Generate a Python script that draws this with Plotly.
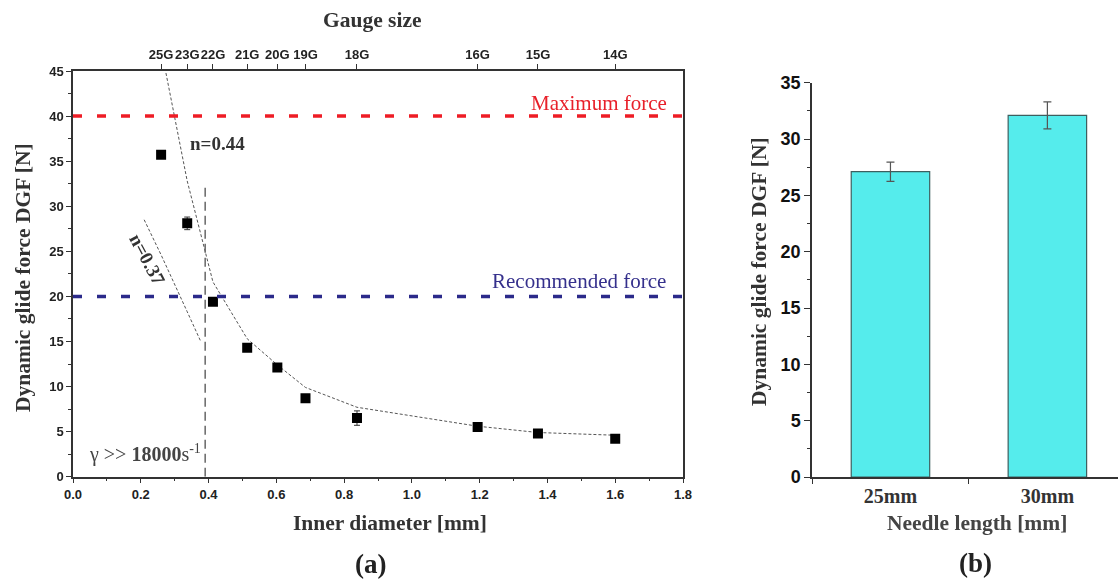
import plotly.graph_objects as go

# ---------------- data ----------------
gauges = ["25G", "23G", "22G", "21G", "20G", "19G", "18G", "16G", "15G", "14G"]
inner_d = [0.260, 0.337, 0.413, 0.514, 0.603, 0.686, 0.838, 1.194, 1.372, 1.600]
dgf = [35.7, 28.1, 19.4, 14.3, 12.1, 8.7, 6.5, 5.5, 4.8, 4.2]
dgf_err = [0, 0.7, 0, 0, 0, 0, 0.8, 0, 0, 0]

fit044_x = inner_d
fit044_y = [47.5, 32.8, 21.6, 15.3, 12.4, 9.9, 7.7, 5.6, 4.9, 4.6]
fit037_x = [0.21, 0.26, 0.337, 0.377]
fit037_y = [28.5, 24.6, 18.3, 15.0]

crit_d = 0.39
crit_top = 32.3
max_force = 40
rec_force = 20

needle = ["25mm", "30mm"]
needle_dgf = [27.1, 32.1]
needle_err = [0.85, 1.2]

SERIF = "Liberation Serif, Times New Roman, serif"
SANS = "Liberation Sans, Arial, sans-serif"
AX = "#333333"
TS = 21.5  # title size

fig = go.Figure()

# fit lines
fig.add_trace(go.Scatter(x=fit044_x, y=fit044_y, mode="lines",
                         line=dict(color="#555555", width=1, dash="3px,2px"),
                         xaxis="x", yaxis="y", showlegend=False, hoverinfo="skip"))
fig.add_trace(go.Scatter(x=fit037_x, y=fit037_y, mode="lines",
                         line=dict(color="#555555", width=1, dash="3px,2px"),
                         xaxis="x", yaxis="y", showlegend=False, hoverinfo="skip"))
# data points
fig.add_trace(go.Scatter(x=inner_d, y=dgf, mode="markers",
                         marker=dict(symbol="square", size=10, color="black"),
                         error_y=dict(type="data", array=dgf_err, color="#333333",
                                      thickness=1, width=3),
                         xaxis="x", yaxis="y", showlegend=False))
# trace on the top gauge axis (hidden)
fig.add_trace(go.Scatter(x=inner_d, y=dgf, mode="markers", opacity=0,
                         xaxis="x2", yaxis="y", showlegend=False, hoverinfo="skip"))

# bars
fig.add_trace(go.Bar(x=needle, y=needle_dgf, width=0.5,
                     marker=dict(color="#55ECEC", line=dict(color="#3d5f5f", width=1.2)),
                     error_y=dict(type="data", array=needle_err, color="#555555",
                                  thickness=1.2, width=4),
                     xaxis="x3", yaxis="y3", showlegend=False))

left_dom = [73 / 1118, 683 / 1118]
left_ydom = [1 - 476.7 / 582, 1 - 71 / 582]
right_dom = [812 / 1118, 1.0]
right_ydom = [1 - 477 / 582, 1 - 82.7 / 582]

common_line = dict(showline=True, linecolor=AX, linewidth=1.5, ticks="outside",
                   tickcolor=AX, tickwidth=1.2, showgrid=False, zeroline=False,
                   automargin=False)

fig.update_layout(
    template="none",
    width=1118, height=582,
    margin=dict(l=0, r=0, t=0, b=0, autoexpand=False),
    paper_bgcolor="white", plot_bgcolor="rgba(0,0,0,0)",
    xaxis=dict(domain=left_dom, range=[0, 1.8], dtick=0.2, tickformat=".1f",
               ticklen=5, anchor="y", tickangle=0,
               minor=dict(ticks="outside", dtick=0.1, ticklen=3, tickcolor=AX),
               tickfont=dict(family=SANS, size=13, color="#222", weight="bold"),
               **common_line),
    xaxis2=dict(domain=left_dom, range=[0, 1.8], overlaying="x", side="top",
                anchor="y", tickmode="array", tickvals=inner_d, ticktext=gauges,
                ticklen=5, tickangle=0,
                tickfont=dict(family=SANS, size=13, color="#222", weight="bold"),
                **common_line),
    yaxis=dict(domain=left_ydom, range=[0, 45], dtick=5, ticklen=5, anchor="x",
               mirror=True,
               minor=dict(ticks="outside", dtick=2.5, ticklen=3, tickcolor=AX),
               tickfont=dict(family=SANS, size=13, color="#222", weight="bold"),
               **common_line),
    xaxis3=dict(domain=right_dom, range=[-0.5, 1.45], type="category",
                tickson="boundaries", ticklen=5, anchor="y3", tickangle=0,
                tickfont=dict(family=SERIF, size=20, color="#333", weight="bold"),
                **common_line),
    yaxis3=dict(domain=right_ydom, range=[0, 35], dtick=5, ticklen=6, anchor="x3",
                minor=dict(ticks="outside", dtick=2.5, ticklen=3, tickcolor=AX),
                tickfont=dict(family=SANS, size=18, color="#111", weight="bold"),
                **common_line),
    bargap=0.5,
)

# reference lines
fig.add_shape(type="line", xref="x domain", yref="y", x0=0, x1=1, y0=max_force, y1=max_force,
              line=dict(color="#EE1C25", width=3.5, dash="9px,15px"))
fig.add_shape(type="line", xref="x domain", yref="y", x0=0, x1=1, y0=rec_force, y1=rec_force,
              line=dict(color="#2B2A8A", width=3.5, dash="9px,15px"))
fig.add_shape(type="line", xref="x", yref="y", x0=crit_d, x1=crit_d, y0=0, y1=crit_top,
              line=dict(color="#666666", width=1.5, dash="9px,5px"))

ann = []
ann.append(dict(x=1.76, y=41.4, xref="x", yref="y", text="Maximum force", showarrow=False,
                xanchor="right", yanchor="middle",
                font=dict(family=SERIF, size=21, color="#E8202A")))
ann.append(dict(x=1.755, y=21.7, xref="x", yref="y", text="Recommended force", showarrow=False,
                xanchor="right", yanchor="middle",
                font=dict(family=SERIF, size=21, color="#35308C")))
ann.append(dict(x=0.339, y=37.0, xref="x", yref="y", text="<b>n=0.44</b>", showarrow=False,
                xanchor="left", yanchor="middle",
                font=dict(family=SERIF, size=19, color="#333")))
ann.append(dict(x=0.22, y=24.1, xref="x", yref="y", text="<b>n=0.37</b>", showarrow=False,
                textangle=62, xanchor="center", yanchor="middle",
                font=dict(family=SERIF, size=19, color="#333")))
ann.append(dict(x=0.042, y=2.6, xref="x", yref="y",
                text="γ >> <b>18000</b>s<sup>-1</sup>", showarrow=False,
                xanchor="left", yanchor="middle",
                font=dict(family=SERIF, size=20, color="#444")))
# titles
ann.append(dict(x=372 / 1118, y=1 - 20 / 582, xref="paper", yref="paper", text="<b>Gauge size</b>",
                showarrow=False, xanchor="center", yanchor="middle",
                font=dict(family=SERIF, size=TS, color="#333")))
ann.append(dict(x=23 / 1118, y=1 - 278 / 582, xref="paper", yref="paper",
                text="<b>Dynamic glide force DGF [N]</b>", textangle=-90,
                showarrow=False, xanchor="center", yanchor="middle",
                font=dict(family=SERIF, size=TS, color="#333")))
ann.append(dict(x=390 / 1118, y=1 - 523 / 582, xref="paper", yref="paper",
                text="<b>Inner diameter [mm]</b>",
                showarrow=False, xanchor="center", yanchor="middle",
                font=dict(family=SERIF, size=TS, color="#333")))
ann.append(dict(x=759 / 1118, y=1 - 272 / 582, xref="paper", yref="paper",
                text="<b>Dynamic glide force DGF [N]</b>", textangle=-90,
                showarrow=False, xanchor="center", yanchor="middle",
                font=dict(family=SERIF, size=TS, color="#333")))
ann.append(dict(x=977 / 1118, y=1 - 523 / 582, xref="paper", yref="paper",
                text="<b>Needle length [mm]</b>",
                showarrow=False, xanchor="center", yanchor="middle",
                font=dict(family=SERIF, size=TS, color="#444")))
ann.append(dict(x=370 / 1118, y=1 - 564 / 582, xref="paper", yref="paper", text="<b>(a)</b>",
                showarrow=False, xanchor="center", yanchor="middle",
                font=dict(family=SERIF, size=27, color="#222")))
ann.append(dict(x=975 / 1118, y=1 - 563 / 582, xref="paper", yref="paper", text="<b>(b)</b>",
                showarrow=False, xanchor="center", yanchor="middle",
                font=dict(family=SERIF, size=27, color="#222")))
fig.update_layout(annotations=ann)

fig.write_html("out.html")
